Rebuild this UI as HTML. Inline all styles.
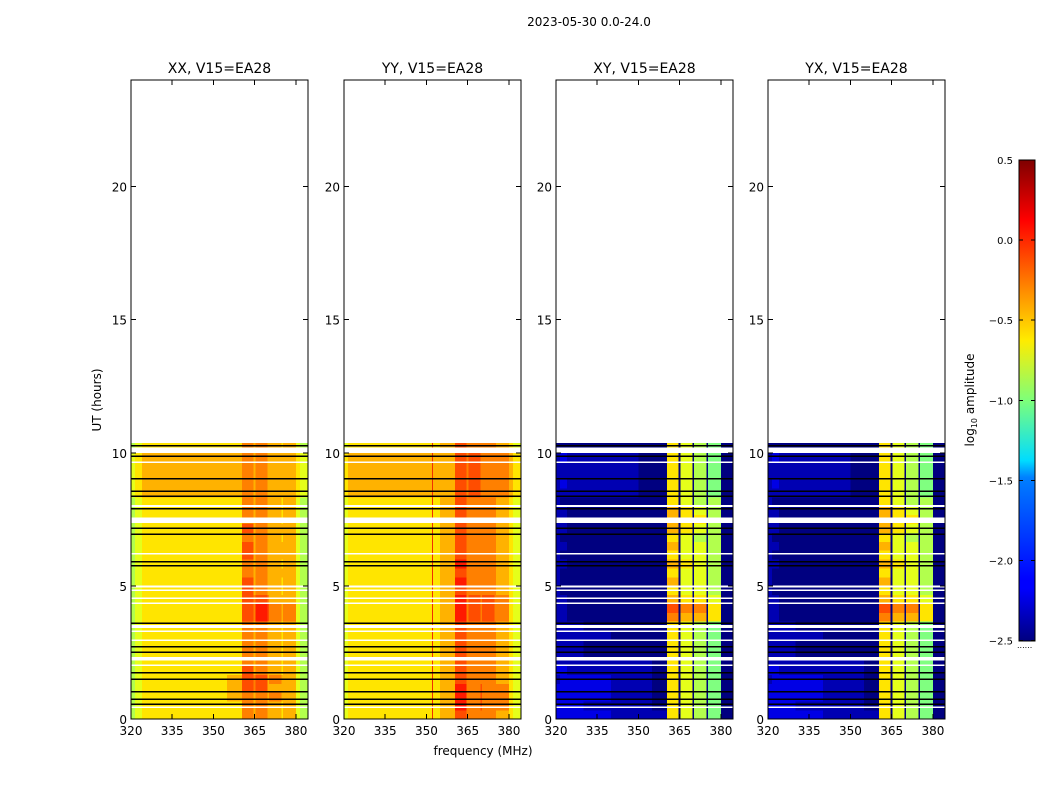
<!DOCTYPE html>
<html><head><meta charset="utf-8"><style>
html,body{margin:0;padding:0;background:#fff;}
svg text{font-family:"DejaVu Sans","Liberation Sans",sans-serif;fill:#000;}
</style></head><body>
<svg id="fig" width="1050" height="800" viewBox="0 0 1050 800" xmlns="http://www.w3.org/2000/svg" shape-rendering="crispEdges">
<defs>
<linearGradient id="jet" x1="0" y1="1" x2="0" y2="0">
<stop offset="0" stop-color="#00007f"/><stop offset="0.11" stop-color="#0000ff"/><stop offset="0.125" stop-color="#0000ff"/>
<stop offset="0.34" stop-color="#0080ff"/><stop offset="0.375" stop-color="#00dcff"/><stop offset="0.5" stop-color="#7dff7a"/>
<stop offset="0.625" stop-color="#ffec00"/><stop offset="0.75" stop-color="#ff7800"/><stop offset="0.875" stop-color="#ff0000"/><stop offset="1" stop-color="#7f0000"/>
</linearGradient>
</defs>
<text x="589" y="26" font-size="12" text-anchor="middle">2023-05-30 0.0-24.0</text>
<g id="panels"></g>
<text transform="translate(101,400) rotate(-90)" font-size="12" text-anchor="middle">UT (hours)</text>
<text x="483" y="755" font-size="12" text-anchor="middle">frequency (MHz)</text>
<g>
<rect x="1019" y="160" width="16" height="481" fill="url(#jet)" stroke="#000" stroke-width="1"/>
<g id="cbticks"></g>
<text transform="translate(974,400) rotate(-90)" font-size="12" text-anchor="middle">log<tspan font-size="8" dy="3">10</tspan><tspan dy="-3"> amplitude</tspan></text>
<text x="1017" y="648" font-size="8" fill="#999">......</text>
</g>
</svg>
<script>
// ---- data ----
const panelTitles = ["XX, V15=EA28","YY, V15=EA28","XY, V15=EA28","YX, V15=EA28"];
const freqEdges = [320,321.5,324,330,340,350,355,360.4,364.6,365.3,369.6,370.2,374.7,375.3,380,381.5,384.4];
const rowHours = 1/3; // each row string spans 1/3 hour starting at 0
// level char (base36) -> log10 amplitude = -2.5 + 0.15*level
const xxRows = [
"bcdddddfefeedecb","bcdddddfefeedecb","bcddddefefefeecb","bcddddegfgeeeecb","bcddddegfgefeecb","bcdddddgefeedecb","bcdddddfefeedecb",
"bcdddddfefeedecb","bcdddddfefeedecb","bcdddddfefeedecb","bcdddddfefeedecb",
"bcdddddgfhgfefcb","bcdddddgfhgfefcb","bcdddddgfgfeeecb",
"bcdddddgefeedecb","bcdddddgefeedecb","bcdddddfefeeeecb","bcdddddfefeedecb","bcdddddgefeeeecb","bcdddddgefeeeecb","bcdddddfefeedecb",
"bcdddddgefeeeecb","bcdddddfefeedecb","bcdddddfefeedecb","bcdddddfefeedecb",
"cdeeeeefefeeeedc","cdeeeeefefeeeedc","cdeeeeefefeeeedc","cdeeeeefefeeeedc","cdeeeeefefeeeedc",
"bcdddddfefeedecb"];
const yyRows = [
"cdddddegfffffedc","cdddddehffgfffdc","cdddddehffgfffdc","cdddddehffgfffdc","cdddddegfffffedc","cdddddegfffffedc","cdddddegfffffedc",
"cdddddegfffffedc","cdddddegfffffedc","cdddddegfffffedc","cdddddegfffffedc",
"cdddddehfgfgffdc","cdddddehfgfgffdc","cdddddehfgfgffdc",
"cdddddegfffffedc","cdddddehfffffedc","cdddddegfffffedc","cdddddehfffffedc","cdddddegfffffedc","cdddddegfffffedc","cdddddegfffffedc",
"cdddddegfffffedc","cdddddegfffffedc","cdddddegfffffedc","cdddddegfffffedc",
"deeeeeegfgffffed","deeeeeegfgffffed","deeeeeegfgffffed","deeeeeegfgffffed","deeeeeegfgffffed",
"cdddddegfffffedc"];
const xyRows = [
"2222111d0c0b0a00","2221110d0c0b0a00","2222110d0c0b0a00","2222110d0c0b0a00","1222110d0c0b0a00","2211110d0c0b0a00","1111110d0c0b0a00",
"1110000d0c0b0a00","1110000d0c0b0a00","1111000d0c0b0a00","1110000d0c0b0a00",
"1100000f0e0e0d00","1100000g0f0f0d00","1100000e0d0d0c00",
"1000000d0c0c0b00","1000000e0c0c0b00","1000000d0c0c0b00","1100000e0d0c0b00","1000000d0c0c0b00","1100000e0c0c0b00","1000000d0c0b0b00",
"1100000e0d0c0b00","1100000e0d0d0b00","1100000e0d0c0b00","1000000d0c0b0b00",
"1111100d0c0b0a00","1211100d0c0b0a00","1111100d0c0b0a00","1111100d0c0b0a00","1211100d0c0b0a00",
"0000000d0c0b0a00"];
const yxRows = [
"2222111d0c0b0a00","2221110d0c0b0a00","2222110d0c0b0a00","2222110d0c0b0a00","1222110d0c0b0a00","2211110d0c0b0a00","1111110d0c0b0a00",
"1110000d0c0b0a00","1110000d0c0b0a00","1111000d0c0b0a00","1110000d0c0b0a00",
"1100000f0e0e0d00","1100000g0f0f0d00","1100000e0d0d0c00",
"1000000d0c0c0b00","1000000e0c0c0b00","1000000d0c0c0b00","1100000e0d0c0b00","1000000d0c0c0b00","1100000e0c0c0b00","1000000d0c0b0b00",
"1100000e0d0c0b00","1100000e0d0d0b00","1100000e0d0c0b00","1000000d0c0b0b00",
"1111100d0c0b0a00","1211100d0c0b0a00","1111100d0c0b0a00","1111100d0c0b0a00","1211100d0c0b0a00",
"0000000d0c0b0a00"];
const whiteGaps = [[10.0,10.2],[9.62,9.68],[7.97,8.03],[7.37,7.56],[6.17,6.24],[4.93,5.02],[4.83,4.87],[4.53,4.57],[4.34,4.38],[3.42,3.53],[3.28,3.32],[2.95,2.99],[2.2,2.33],[2.01,2.05],[0.43,0.47]];
const blackLines = [10.26,9.86,9.02,8.55,8.36,7.89,7.17,6.94,5.91,5.75,3.6,2.72,2.51,1.74,1.49,1.03,0.74,0.55];
const xTicks = [320,335,350,365,380];
const yTicks = [0,5,10,15,20];
const cbTicks = [0.5,0.0,-0.5,-1.0,-1.5,-2.0,-2.5];
// ---- geometry ----
const panelX = [131,344,556,768];
const PW = 177, Y0 = 719, Y1 = 80;
const FMIN = 320, FMAX = 384.4, TMIN = 0, TMAX = 24, VMIN = -2.5, VMAX = 0.5;
const NS = "http://www.w3.org/2000/svg";
function yScale(h){ return Y0 - (h - TMIN) / (TMAX - TMIN) * (Y0 - Y1); }
function jet(v){
  let t = Math.max(0, Math.min(1, (v - VMIN) / (VMAX - VMIN)));
  const c = x => Math.round(255 * Math.max(0, Math.min(1, x)));
  return `rgb(${c(1.5-Math.abs(4*t-3))},${c(1.5-Math.abs(4*t-2))},${c(1.5-Math.abs(4*t-1))})`;
}
function mk(tag, attrs, parent){ const e = document.createElementNS(NS, tag); for (const k in attrs) e.setAttribute(k, attrs[k]); parent.appendChild(e); return e; }
const panelsG = document.getElementById('panels');
const allRows = [xxRows, yyRows, xyRows, yxRows];
panelX.forEach((x0, p) => {
  const xScale = f => x0 + (f - FMIN) / (FMAX - FMIN) * PW;
  const g = mk('g', {}, panelsG);
  
  
  const rows = allRows[p];
  rows.forEach((row, r) => {
    for (let i = 0; i < freqEdges.length - 1; i++) {
      const lv = parseInt(row[i] || '0', 36);
      const v = VMIN + 0.15 * lv;
      const xa = xScale(freqEdges[i]), xb = xScale(freqEdges[i+1]);
      const ya = yScale((r+1) * rowHours + (r === rows.length-1 ? 0.04 : 0)), yb = yScale(r * rowHours);
      const cell = mk('rect', {x: xa.toFixed(2), y: ya.toFixed(2), width: (xb-xa+0.3).toFixed(2), height: (yb-ya+0.3).toFixed(2), fill: jet(v)}, g);
      
      
    }
  });
  if (p === 1) {
    const rl = mk('rect', {x: xScale(352).toFixed(1), y: yScale(10.37), width: 1, height: Y0 - yScale(10.37), fill: '#f03000'}, g);
    
    
  }
  whiteGaps.forEach(gp => {
    const ya = yScale(gp[1]), yb = yScale(gp[0]);
    const w = mk('rect', {x: x0, y: ya.toFixed(2), width: PW, height: Math.max(1.5, yb-ya).toFixed(2), fill: '#fff'}, g);
    
    
  });
  blackLines.forEach(h => {
    const y = yScale(h);
    const l = mk('rect', {x: x0, y: (y-0.75).toFixed(2), width: PW, height: 1.5, fill: '#000'}, g);
    
    
  });
  const frame = mk('rect', {x: x0, y: Y1, width: PW, height: Y0 - Y1, fill: 'none', stroke: '#000', 'stroke-width': 1}, g);
  
  
  const t = mk('text', {x: x0 + PW/2, y: 73, 'font-size': 14, 'text-anchor': 'middle'}, g);
  t.textContent = panelTitles[p];
  
  
  xTicks.forEach(f => {
    const x = xScale(f);
    mk('line', {x1: x, x2: x, y1: Y0, y2: Y0-5, stroke: '#000'}, g);
    mk('line', {x1: x, x2: x, y1: Y1, y2: Y1+5, stroke: '#000'}, g);
    const lb = mk('text', {x: x, y: Y0 + 16, 'font-size': 12, 'text-anchor': 'middle'}, g);
    lb.textContent = f;
    
    
  });
  yTicks.forEach(h => {
    const y = yScale(h);
    mk('line', {x1: x0, x2: x0+5, y1: y, y2: y, stroke: '#000'}, g);
    mk('line', {x1: x0+PW, x2: x0+PW-5, y1: y, y2: y, stroke: '#000'}, g);
    const lb = mk('text', {x: x0 - 4, y: y + 5, 'font-size': 12, 'text-anchor': 'end'}, g);
    lb.textContent = h;
    
    
  });
});
const cbG = document.getElementById('cbticks');
cbTicks.forEach(v => {
  const y = 640.5 - (v - VMIN) / (VMAX - VMIN) * 480.5;
  mk('line', {x1: 1019, x2: 1023, y1: y, y2: y, stroke: '#000'}, cbG);
  mk('line', {x1: 1035, x2: 1031, y1: y, y2: y, stroke: '#000'}, cbG);
  const lb = mk('text', {x: 1013, y: y + 4, 'font-size': 10, 'text-anchor': 'end'}, cbG);
  lb.textContent = v.toFixed(1).replace('-', '\u2212');
  
  
});
</script>
</body></html>
